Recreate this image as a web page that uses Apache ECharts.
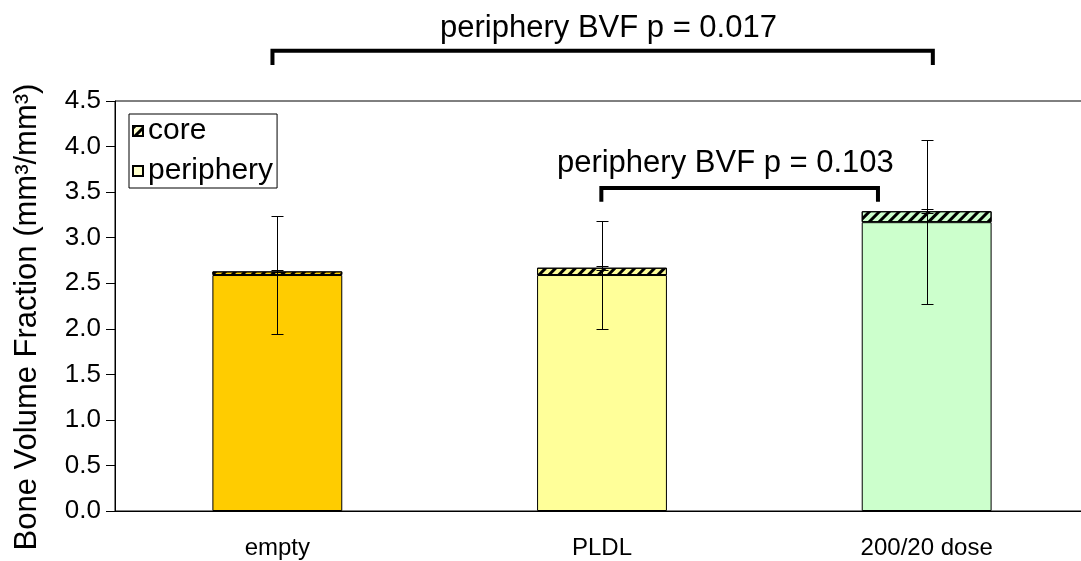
<!DOCTYPE html>
<html>
<head>
<meta charset="utf-8">
<script src="https://cdn.jsdelivr.net/npm/echarts@6/dist/echarts.min.js"></script>
<style>
  html, body { margin: 0; padding: 0; background: #fff; overflow: hidden; }
  /* the plot frame runs a little past the right edge of the page */
  #chart { width: 1090px; height: 561px; }
</style>
</head>
<body>
<div id="chart"></div>
<script>
// Groups along the x axis
const categories = ['empty', 'PLDL', '200/20 dose'];
// Bone volume fraction by region (mm³/mm³), stacked: periphery below, core on top
const peripheryValues = [2.59, 2.59, 3.17];
const coreValues = [0.04, 0.08, 0.12];
// Error bar half-lengths for each stacked segment
const peripheryErr = [0.65, 0.59, 0.90];
const coreErr = [0.01, 0.02, 0.02];
// Bar fill per group
const groupColors = ['#FFCC00', '#FFFF99', '#CCFFCC'];

// Significance brackets (x in category units, 0..3; y in axis units)
const bracketStart = [0.485, 1.498];
const bracketEnd = [2.519, 2.35];
const bracketLevel = [5.052, 3.545];
const bracketFoot = [4.895, 3.395];
const bracketLabelX = [1.52, 1.88];
const bracketLabelY = [5.30, 3.82];
const bracketLabels = ['periphery BVF p = 0.017', 'periphery BVF p = 0.103'];

const FONT = '"Liberation Sans", Arial, sans-serif';

const stripes = {
  symbol: 'rect',
  symbolSize: 1,
  dashArrayX: [1, 0],
  dashArrayY: [3, 4],
  rotation: -Math.PI / 4,
  color: '#000'
};

const errorData = [];
categories.forEach((c, i) => {
  const p = peripheryValues[i];
  errorData.push([i, p - peripheryErr[i], p + peripheryErr[i]]);
  const t = p + coreValues[i];
  errorData.push([i, t - coreErr[i], t + coreErr[i]]);
});

const bracketData = bracketStart.map((s, i) =>
  [s, bracketEnd[i], bracketLevel[i], bracketFoot[i], bracketLabelX[i], bracketLabelY[i], i]);

const crisp = v => Math.round(v) + 0.5;

const chart = echarts.init(document.getElementById('chart'));
chart.setOption({
  animation: false,
  backgroundColor: '#fff',
  textStyle: { fontFamily: FONT },
  grid: {
    left: 115, top: 101, width: 974, bottom: 50,
    show: true, borderColor: '#000', borderWidth: 1, backgroundColor: 'transparent'
  },
  legend: {
    data: ['core', 'periphery'],
    orient: 'vertical',
    left: 129, top: 114,
    padding: [2, 4, 2, 3],
    itemGap: 10,
    itemWidth: 10, itemHeight: 10,
    icon: 'rect',
    borderColor: '#000', borderWidth: 1,
    backgroundColor: '#fff',
    textStyle: { fontFamily: FONT, fontSize: 30, color: '#000' }
  },
  xAxis: [{
    type: 'category',
    data: categories,
    axisLine: { lineStyle: { color: '#000', width: 1 } },
    axisTick: { length: 8, lineStyle: { color: '#000' } },
    axisLabel: { color: '#000', fontSize: 24, margin: 25, fontFamily: FONT },
    splitLine: { show: false }
  }, {
    type: 'value', min: 0, max: 3, show: false
  }],
  yAxis: {
    type: 'value',
    min: 0, max: 4.5, interval: 0.5,
    name: 'Bone Volume Fraction (mm³/mm³)',
    nameLocation: 'middle',
    nameGap: 72,
    nameTextStyle: { fontSize: 31, color: '#000', fontFamily: FONT, padding: [0, 22, 0, 0] },
    axisLine: { show: true, lineStyle: { color: '#000', width: 1 } },
    axisTick: { show: true, length: 9, lineStyle: { color: '#000' } },
    axisLabel: { color: '#000', fontSize: 26, margin: 14, fontFamily: FONT,
                 formatter: v => v.toFixed(1) },
    splitLine: { show: false }
  },
  series: [{
    name: 'periphery',
    type: 'bar',
    stack: 'bvf',
    barWidth: '40%',
    itemStyle: { color: '#FFFFCC', borderColor: '#000', borderWidth: 1 },
    data: peripheryValues.map((v, i) => ({ value: v, itemStyle: { color: groupColors[i] } }))
  }, {
    name: 'core',
    type: 'bar',
    stack: 'bvf',
    barWidth: '40%',
    itemStyle: { color: '#FFFFCC', borderColor: '#000', borderWidth: 1, decal: stripes },
    data: coreValues.map((v, i) => ({ value: v, itemStyle: { color: groupColors[i], decal: stripes } }))
  }, {
    name: 'error',
    type: 'custom',
    z: 5,
    data: errorData,
    renderItem: (params, api) => {
      const x = api.value(0);
      const lo = api.coord([x, api.value(1)]);
      const hi = api.coord([x, api.value(2)]);
      const cx = crisp(lo[0]);
      const yl = crisp(lo[1]);
      const yh = crisp(hi[1]);
      const half = 6;
      const st = { stroke: '#000', lineWidth: 1 };
      return {
        type: 'group',
        children: [
          { type: 'line', shape: { x1: cx, y1: yl, x2: cx, y2: yh }, style: st },
          { type: 'line', shape: { x1: cx - half, y1: yl, x2: cx + half, y2: yl }, style: st },
          { type: 'line', shape: { x1: cx - half, y1: yh, x2: cx + half, y2: yh }, style: st }
        ]
      };
    }
  }, {
    name: 'brackets',
    type: 'custom',
    xAxisIndex: 1,
    clip: false,
    z: 6,
    data: bracketData,
    renderItem: (params, api) => {
      const a = api.coord([api.value(0), api.value(3)]);
      const b = api.coord([api.value(0), api.value(2)]);
      const c = api.coord([api.value(1), api.value(2)]);
      const d = api.coord([api.value(1), api.value(3)]);
      const t = api.coord([api.value(4), api.value(5)]);
      return {
        type: 'group',
        children: [
          { type: 'polyline', shape: { points: [a, b, c, d] },
            style: { stroke: '#000', lineWidth: 4, fill: null, lineJoin: 'miter' } },
          { type: 'text', x: t[0], y: t[1],
            style: { text: bracketLabels[api.value(6)], fill: '#000',
                     font: '31px ' + FONT, align: 'center', verticalAlign: 'middle' } }
        ]
      };
    }
  }]
});
</script>
</body>
</html>
